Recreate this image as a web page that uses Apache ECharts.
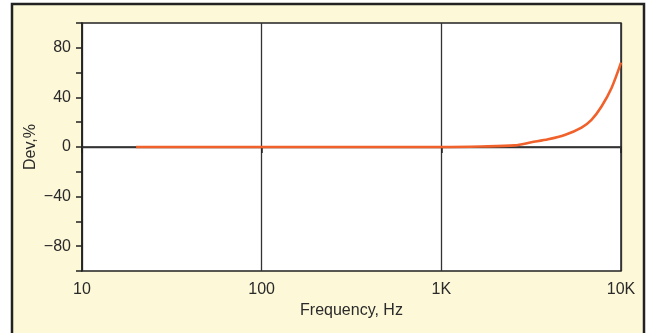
<!DOCTYPE html>
<html>
<head>
<meta charset="utf-8">
<script src="https://cdn.jsdelivr.net/npm/echarts@6/dist/echarts.min.js"></script>
<style>
html,body{margin:0;padding:0;background:#fff;}
#c{width:647px;height:333px;}
</style>
</head>
<body>
<div id="c"></div>
<script>
var freqs = [20, 50, 100, 200, 500, 1000, 1670, 2560, 3170, 3930, 4860, 6030, 6850, 7790, 8860, 10000];
var devs  = [0, 0, 0, 0, 0, 0, 0.4, 1.3, 3.8, 6.2, 9.7, 15.7, 21.9, 32.7, 47.6, 68];
var xTickLabels = {10: '10', 100: '100', 1000: '1K', 10000: '10K'};
var yLabelled = [-80, -40, 0, 40, 80];

var data = freqs.map(function (f, i) { return [f, devs[i]]; });
var font = 'Liberation Sans, Arial, sans-serif';
var txt = '#2a2a2a';

var chart = echarts.init(document.getElementById('c'));
chart.setOption({
  animation: false,
  graphic: [{
    type: 'rect', z: -10, silent: true,
    shape: {x: 12, y: 4, width: 632, height: 345},
    style: {fill: '#fdf8d8', stroke: '#222', lineWidth: 2.5}
  }],
  grid: {left: 82, right: 26, top: 23, bottom: 62, show: true,
         backgroundColor: '#fff', borderColor: '#222', borderWidth: 1.5},
  xAxis: {
    type: 'log', logBase: 10, min: 10, max: 10000,
    name: 'Frequency, Hz', nameLocation: 'middle', nameGap: 32,
    nameTextStyle: {fontFamily: font, fontSize: 16, color: txt},
    axisLine: {show: true, lineStyle: {color: '#222', width: 1.5}},
    axisTick: {show: true, length: 6, lineStyle: {color: '#222', width: 1.5}},
    minorTick: {show: false},
    axisLabel: {fontFamily: font, fontSize: 16, color: txt, margin: 11,
      formatter: function (v) { return xTickLabels[Math.round(v)] || ''; }},
    splitLine: {show: true, lineStyle: {color: '#333', width: 1.3}}
  },
  yAxis: {
    type: 'value', min: -100, max: 100, interval: 20,
    name: 'Dev,%', nameLocation: 'middle', nameGap: 43, nameMoveOverlap: false,
    nameTextStyle: {fontFamily: font, fontSize: 16, color: txt},
    axisLine: {show: true, lineStyle: {color: '#222', width: 1.5}},
    axisTick: {show: true, length: 6, lineStyle: {color: '#222', width: 1.5}},
    axisLabel: {fontFamily: font, fontSize: 16, color: txt, margin: 11,
      formatter: function (v) {
        if (yLabelled.indexOf(v) < 0) return '';
        return v < 0 ? '\u2212' + Math.abs(v) : String(v);
      }},
    splitLine: {show: false}
  },
  series: [{
    type: 'line', data: data, smooth: 0.3, showSymbol: false,
    lineStyle: {color: '#f0612b', width: 2.6},
    z: 5,
    markLine: {
      silent: true, symbol: 'none', label: {show: false},
      lineStyle: {color: '#333', width: 1.3, type: 'solid'},
      data: [{yAxis: 0}], z: 1
    }
  }]
});
</script>
</body>
</html>
